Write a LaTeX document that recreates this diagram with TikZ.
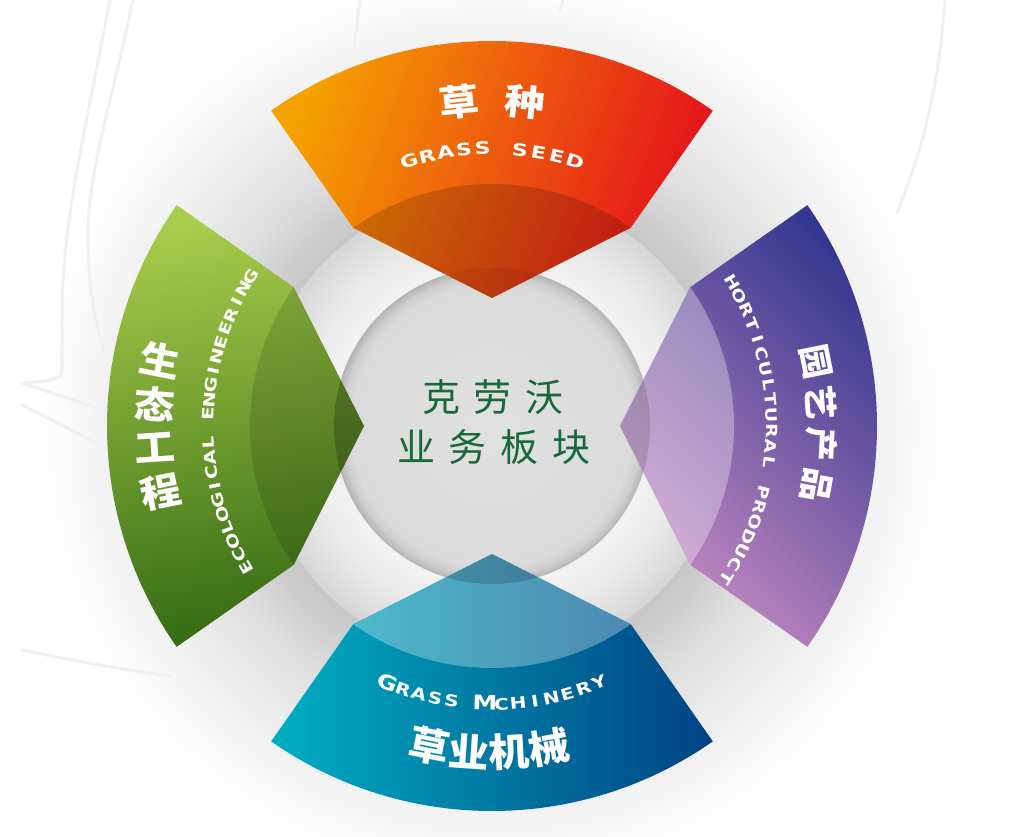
\documentclass[tikz,border=0pt]{standalone}
\usepackage{fontspec}
\usepackage{graphicx}
\newfontfamily\cjk{Noto Sans CJK SC}
\newfontfamily\enf{DejaVu Sans}
\definecolor{ctxt}{HTML}{17683A}
\definecolor{faint}{HTML}{F0F0F0}
\definecolor{og1}{HTML}{F5A200}
\definecolor{og2}{HTML}{EE6C02}
\definecolor{og3}{HTML}{E5121B}
\definecolor{gr1}{HTML}{A9CD4B}
\definecolor{gr2}{HTML}{62A02E}
\definecolor{gr3}{HTML}{356B13}
\definecolor{pu1}{HTML}{C58AC1}
\definecolor{pu2}{HTML}{7A5DAA}
\definecolor{pu3}{HTML}{34378F}
\definecolor{bl1}{HTML}{00AFC3}
\definecolor{bl2}{HTML}{057CAE}
\definecolor{bl3}{HTML}{004283}
\pgfdeclareradialshading{halo}{\pgfpoint{0bp}{0bp}}{%
 color(0bp)=(black!6); color(8.52bp)=(black!6); color(8.9bp)=(black!5);
 color(10.44bp)=(black!8); color(12.36bp)=(black!14); color(12.86bp)=(black!16);
 color(12.97bp)=(black!22); color(14.29bp)=(black!19); color(16.48bp)=(black!13);
 color(19.23bp)=(black!8); color(21.98bp)=(black!4); color(24.18bp)=(black!1);
 color(25bp)=(white); color(50bp)=(white)}
\pgfdeclareradialshading{disc}{\pgfpoint{0bp}{0bp}}{%
 color(0bp)=(black!12); color(22.2bp)=(black!14); color(23.7bp)=(black!19);
 color(24.7bp)=(black!27); color(25bp)=(black!30); color(50bp)=(black!30)}
\newcommand\petalpath[1]{({#1-35}:385) arc[start angle={#1-35}, end angle={#1+35}, radius=385] -- ({#1+35}:242) -- (#1:128) -- ({#1-35}:242) -- cycle}
\newcommand\bandpath[1]{({#1+35}:242) arc[start angle={#1+35}, end angle={#1-35}, radius=242] -- (#1:128) -- cycle}
\newcommand\topf[1]{\fontsize{17}{17}\selectfont\scalebox{1.3}[1]{#1}}
\newcommand\botf[1]{\fontsize{16}{16}\selectfont\scalebox{1.25}[1]{#1}}
\newcommand\bigltr{\fontsize{20}{20}\selectfont}
\newcommand\leftf[1]{\fontsize{15.5}{15.5}\selectfont\scalebox{1.25}[1]{#1}}
\newcommand\rightf[1]{\fontsize{15.5}{15.5}\selectfont\scalebox{1.22}[1]{#1}}
\newcommand\arctext[7]{%
  \foreach \ch [count=\i] in {#7} {%
    \pgfmathsetmacro\ang{#3+(\i-1)*(#4)}%
    \node[lt, rotate=\ang+(#5)] (#1\i) at (\ang:#2) {#6{\ch}};
  }}
\newcommand\arccjk[8]{%
  \foreach \ch [count=\i] in {#6} {%
    \pgfmathsetmacro\ang{#3+(\i-1)*(#4)}%
    \node[cl, rotate=\ang+(#5)] (#1\i) at (\ang:#2) {\fontsize{#7}{#7}\selectfont\scalebox{#8}[1]{\ch}};
  }}
\begin{document}
\begin{tikzpicture}[x=1pt,y=1pt,
  faintline/.style={draw=faint, line width=3pt, line cap=round},
  lt/.style={text=white, inner sep=0pt, anchor=base, font=\enf\bfseries},
  cl/.style={text=white, inner sep=0pt, font=\cjk\bfseries},
  ctext/.style={text=ctxt, inner sep=0pt, font=\cjk\fontsize{38}{38}\selectfont}]
\useasboundingbox (0,0) rectangle (1030,836);
\fill[white] (0,0) rectangle (1030,836);
\begin{scope}[shift={(492,410)}]
  \shade[shading=halo] (0,0) circle (455);
\end{scope}
% faint background lines
\draw[faintline] (110,836) .. controls (82,690) and (62,610) .. (62,520) -- (62,466) .. controls (62,458) and (57,455) .. (22,453);
\draw[faintline] (22,453) -- (97,428);
\draw[faintline] (22,431) -- (97,393);
\draw[faintline] (133,836) .. controls (108,720) and (88,660) .. (88,603) .. controls (88,545) and (97,505) .. (105,483);
\draw[faintline] (22,186) .. controls (70,176) and (125,166) .. (170,160);
\draw[faintline] (360,836) -- (354,789);
\draw[faintline] (563,836) -- (560,826);
\draw[faintline] (945,836) .. controls (938,740) and (920,680) .. (897,623);
\begin{scope}[shift={(492,410)}]
  \shade[shading=disc] (0,0) circle (158);
  % petals
  \shade[top color=og1, middle color=og2, bottom color=og3, shading angle=70] \petalpath{90};
  \shade[top color=gr1, middle color=gr2, bottom color=gr3, shading angle=10] \petalpath{180};
  \shade[top color=pu1, middle color=pu2, bottom color=pu3, shading angle=135] \petalpath{0};
  \shade[top color=bl1, middle color=bl2, bottom color=bl3, shading angle=90] \petalpath{270};
  % inner bands
  \fill[black, opacity=.16] \bandpath{90};
  \fill[black, opacity=.12] \bandpath{180};
  \fill[white, opacity=.32] \bandpath{0};
  \fill[white, opacity=.3] \bandpath{270};
  \begin{scope}
    \clip (0,0) circle (158);
    \fill[black, opacity=.06] \bandpath{90};
    \fill[black, opacity=.2] \bandpath{180};
    \fill[black, opacity=.12] \bandpath{0};
    \fill[black, opacity=.16] \bandpath{270};
  \end{scope}
  % centre text
  \node[ctext] (c1) at (1,29) {克\hspace{14pt}劳\hspace{14pt}沃};
  \node[ctext] (c2) at (2,-21) {业\hspace{14pt}务\hspace{14pt}板\hspace{14pt}块};
  % chinese labels
  \arccjk{ts}{326}{95.8}{-11.6}{-90}{草,种}{36}{1.12}
  \arccjk{tb}{326}{258.85}{7.1}{-270}{草,业,机,械}{39}{1.05}
  \arccjk{tl}{338}{168.8}{7.47}{-180}{生,态,工,程}{37}{1.1}
  \arccjk{tr}{330}{11.3}{-7.2}{-90}{园,艺,产,品}{34}{1.0}
  % english labels
  \arctext{gs}{271.5}{107.37}{-3.86}{-90}{\topf}{G,R,A,S,S,{},S,E,E,D}
  \arctext{gm}{284}{247.9}{3.44}{-270}{\botf}{{\bigltr G},R,A,S,S,{},{\bigltr M},C,H,I,N,E,R,Y}
  \arctext{ee}{278}{209.9}{-2.94}{-90}{\leftf}{E,C,O,L,O,G,I,C,A,L,{},E,N,G,I,N,E,E,R,I,N,G}
  \arctext{hp}{274}{30.9}{-3.19}{-90}{\rightf}{H,O,R,T,I,C,U,L,T,U,R,A,L,{},P,R,O,D,U,C,T}
\end{scope}
\end{tikzpicture}
\end{document}
